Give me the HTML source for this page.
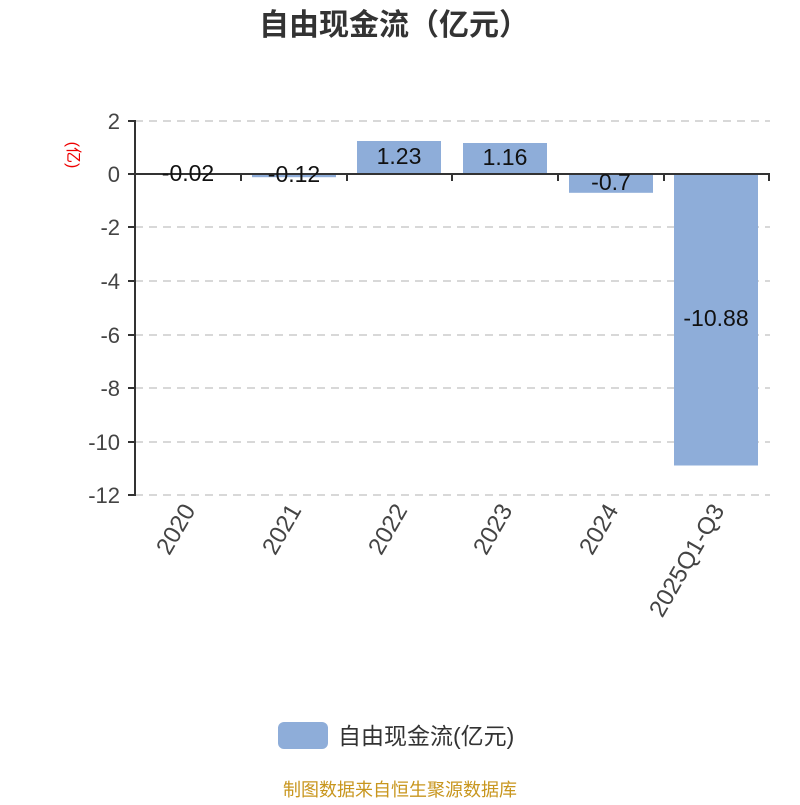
<!DOCTYPE html>
<html><head><meta charset="utf-8"><style>
html,body{margin:0;padding:0;background:#fff;}
svg text{font-family:"Liberation Sans","Noto Sans CJK SC",sans-serif;}
</style></head><body>
<svg width="800" height="800" viewBox="0 0 800 800" xmlns="http://www.w3.org/2000/svg">
<text x="394" y="35" font-size="30" font-weight="bold" fill="#333" text-anchor="middle">自由现金流（亿元）</text>
<g stroke="#ccc" stroke-width="1.5" stroke-dasharray="8,6">
<line x1="135" y1="121" x2="770" y2="121"/>
<line x1="135" y1="227" x2="770" y2="227"/>
<line x1="135" y1="281" x2="770" y2="281"/>
<line x1="135" y1="335" x2="770" y2="335"/>
<line x1="135" y1="388" x2="770" y2="388"/>
<line x1="135" y1="442" x2="770" y2="442"/>
<line x1="135" y1="495" x2="770" y2="495"/>
</g>
<g fill="#8eadd9">
<rect x="146" y="174" width="84" height="1"/>
<rect x="252" y="174" width="84" height="3.2"/>
<rect x="357" y="141" width="84" height="33"/>
<rect x="463" y="143" width="84" height="31"/>
<rect x="569" y="174" width="84" height="18.8"/>
<rect x="674" y="174" width="84" height="291.5"/>
</g>
<g stroke="#333" stroke-width="2" fill="none">
<line x1="135" y1="120" x2="135" y2="496"/>
<line x1="134" y1="174" x2="770" y2="174"/>
<line x1="128" y1="121" x2="135" y2="121"/>
<line x1="128" y1="174" x2="135" y2="174"/>
<line x1="128" y1="227" x2="135" y2="227"/>
<line x1="128" y1="281" x2="135" y2="281"/>
<line x1="128" y1="335" x2="135" y2="335"/>
<line x1="128" y1="388" x2="135" y2="388"/>
<line x1="128" y1="442" x2="135" y2="442"/>
<line x1="128" y1="495" x2="135" y2="495"/>
<line x1="241" y1="174" x2="241" y2="181"/>
<line x1="347" y1="174" x2="347" y2="181"/>
<line x1="452" y1="174" x2="452" y2="181"/>
<line x1="558" y1="174" x2="558" y2="181"/>
<line x1="664" y1="174" x2="664" y2="181"/>
<line x1="769" y1="174" x2="769" y2="181"/>
</g>
<g font-size="22" fill="#444" text-anchor="end">
<text x="120" y="129">2</text>
<text x="120" y="182">0</text>
<text x="120" y="235">-2</text>
<text x="120" y="289">-4</text>
<text x="120" y="343">-6</text>
<text x="120" y="396">-8</text>
<text x="120" y="450">-10</text>
<text x="120" y="503">-12</text>
</g>
<text x="0" y="0" font-size="16" fill="#e00" text-anchor="middle" transform="translate(68,155) rotate(90)">(亿)</text>
<g font-size="23" fill="#111" text-anchor="middle">
<text x="188" y="181">-0.02</text>
<text x="294" y="182">-0.12</text>
<text x="399" y="164">1.23</text>
<text x="505" y="165">1.16</text>
<text x="611" y="190">-0.7</text>
<text x="716" y="326">-10.88</text>
</g>
<g font-size="24" fill="#444" text-anchor="end">
<text transform="translate(196,510) rotate(-60)">2020</text>
<text transform="translate(302,510) rotate(-60)">2021</text>
<text transform="translate(408,510) rotate(-60)">2022</text>
<text transform="translate(513,510) rotate(-60)">2023</text>
<text transform="translate(619,510) rotate(-60)">2024</text>
<text transform="translate(725,510) rotate(-60)">2025Q1-Q3</text>
</g>
<rect x="278" y="722" width="50" height="27" rx="6" fill="#8eadd9"/>
<text x="338" y="744" font-size="23" fill="#333">自由现金流(亿元)</text>
<text x="400" y="796" font-size="18" fill="#c8961e" text-anchor="middle">制图数据来自恒生聚源数据库</text>
</svg>
</body></html>
